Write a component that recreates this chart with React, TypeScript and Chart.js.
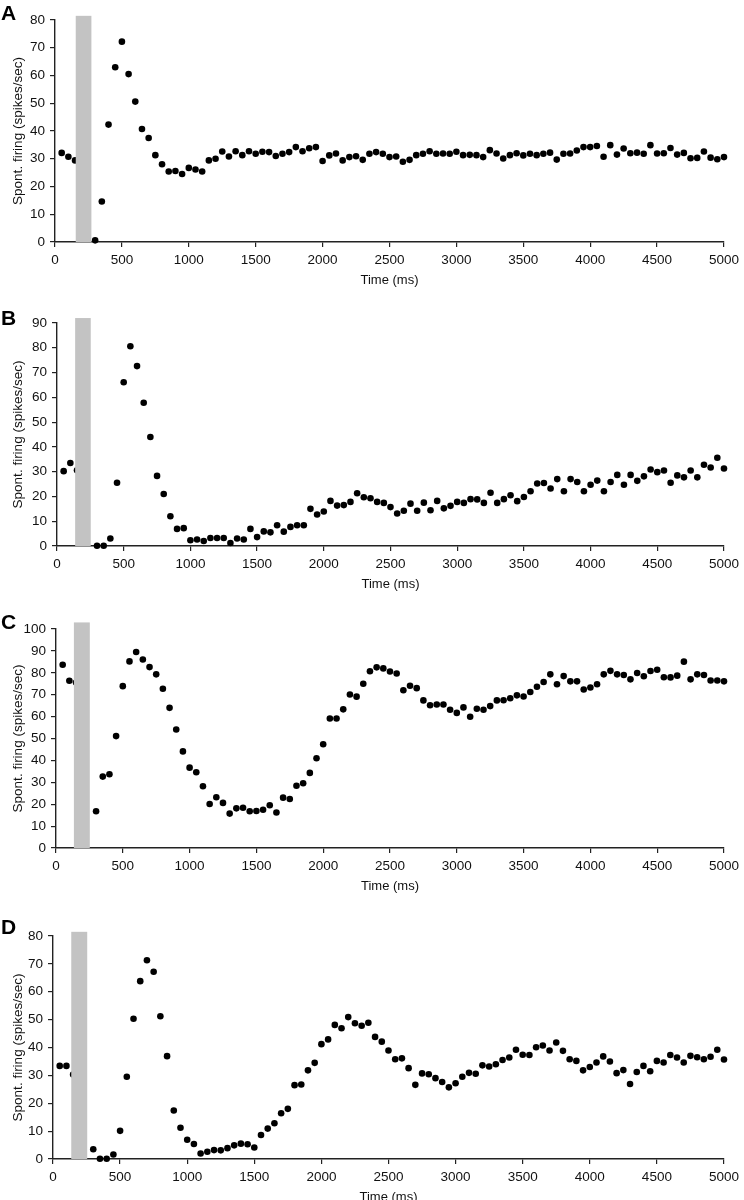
import React, { useEffect, useRef } from "react";
import { Chart, registerables } from "chart.js";

Chart.register(...registerables);

// Time bins (ms)
const times = [
  50, 100, 150, 200, 250, 300, 350, 400, 450, 500,
  550, 600, 650, 700, 750, 800, 850, 900, 950, 1000,
  1050, 1100, 1150, 1200, 1250, 1300, 1350, 1400, 1450, 1500,
  1550, 1600, 1650, 1700, 1750, 1800, 1850, 1900, 1950, 2000,
  2050, 2100, 2150, 2200, 2250, 2300, 2350, 2400, 2450, 2500,
  2550, 2600, 2650, 2700, 2750, 2800, 2850, 2900, 2950, 3000,
  3050, 3100, 3150, 3200, 3250, 3300, 3350, 3400, 3450, 3500,
  3550, 3600, 3650, 3700, 3750, 3800, 3850, 3900, 3950, 4000,
  4050, 4100, 4150, 4200, 4250, 4300, 4350, 4400, 4450, 4500,
  4550, 4600, 4650, 4700, 4750, 4800, 4850, 4900, 4950, 5000,
];

const xTickLabels = ["0", "500", "1000", "1500", "2000", "2500", "3000", "3500", "4000", "4500", "5000"];

const seriesA = [
  32.1, 30.7, 29.4, null, null, 0.6, 14.6, 42.3, 63.0, 72.2,
  60.5, 50.6, 40.7, 37.5, 31.3, 28.0, 25.4, 25.6, 24.5, 26.7,
  26.1, 25.4, 29.4, 30.0, 32.6, 30.8, 32.7, 31.3, 32.7, 31.8,
  32.5, 32.4, 31.0, 31.8, 32.4, 34.2, 32.7, 33.8, 34.2, 29.2,
  31.2, 31.9, 29.4, 30.6, 30.9, 29.6, 31.8, 32.4, 31.8, 30.6,
  30.8, 28.9, 29.6, 31.3, 31.8, 32.7, 31.8, 31.9, 31.8, 32.5,
  31.3, 31.4, 31.3, 30.6, 33.1, 31.9, 30.1, 31.3, 32.0, 31.2,
  31.8, 31.3, 31.8, 32.2, 29.7, 31.8, 31.9, 33.0, 34.2, 34.2,
  34.6, 30.7, 34.9, 31.5, 33.7, 32.0, 32.2, 31.8, 34.9, 31.9,
  32.0, 33.9, 31.5, 32.1, 30.2, 30.3, 32.6, 30.4, 29.8, 30.6,
];

const seriesB = [
  30.2, 33.5, 30.6, null, null, 0.1, 0.1, 3.0, 25.5, 66.1,
  80.6, 72.6, 57.8, 44.0, 28.3, 21.0, 12.0, 6.9, 7.2, 2.3,
  2.6, 2.0, 3.2, 3.2, 3.2, 1.2, 3.0, 2.6, 6.9, 3.6,
  5.9, 5.5, 8.4, 5.8, 7.7, 8.4, 8.4, 15.0, 12.7, 13.9,
  18.2, 16.3, 16.5, 17.8, 21.3, 19.7, 19.3, 17.8, 17.4, 15.7,
  13.1, 14.2, 17.1, 14.2, 17.5, 14.4, 18.2, 15.2, 16.2, 17.8,
  17.4, 18.9, 18.8, 17.4, 21.5, 17.4, 18.9, 20.5, 18.1, 19.8,
  22.1, 25.2, 25.4, 23.2, 27.0, 22.1, 27.0, 25.8, 22.1, 24.7,
  26.4, 22.1, 25.8, 28.7, 24.7, 28.7, 26.3, 28.1, 30.9, 29.8,
  30.5, 25.5, 28.5, 27.7, 30.5, 27.7, 32.8, 31.7, 35.6, 31.3,
];

const seriesC = [
  83.7, 76.4, 75.6, null, null, 16.8, 32.6, 33.7, 51.1, 73.9,
  85.2, 89.5, 86.1, 82.6, 79.3, 72.7, 64.0, 54.1, 44.1, 36.7,
  34.6, 28.2, 20.1, 23.2, 20.6, 15.7, 18.1, 18.4, 16.8, 16.9,
  17.5, 19.5, 16.2, 23.0, 22.4, 28.4, 29.6, 34.3, 41.0, 47.4,
  59.1, 59.1, 63.3, 70.1, 69.1, 75.0, 80.7, 82.5, 82.0, 80.6,
  79.7, 72.0, 74.1, 73.0, 67.4, 65.2, 65.5, 65.5, 63.1, 61.7,
  64.2, 59.9, 63.6, 63.1, 64.8, 67.4, 67.5, 68.4, 69.7, 69.2,
  71.2, 73.6, 75.8, 79.3, 74.8, 78.5, 76.1, 76.1, 72.4, 73.3,
  74.8, 79.3, 80.9, 79.3, 79.0, 77.0, 79.9, 78.4, 80.8, 81.4,
  78.0, 77.9, 78.7, 85.1, 77.0, 79.3, 79.0, 76.5, 76.5, 76.1,
];

const seriesD = [
  33.4, 33.4, 30.3, null, null, 3.5, 0.1, 0.1, 1.6, 10.1,
  29.5, 50.3, 63.8, 71.3, 67.2, 51.2, 36.9, 17.4, 11.2, 6.9,
  5.4, 2.0, 2.6, 3.2, 3.1, 3.9, 4.9, 5.5, 5.3, 4.1,
  8.6, 10.9, 12.8, 16.4, 18.0, 26.5, 26.7, 31.8, 34.5, 41.2,
  42.9, 48.1, 46.9, 50.9, 48.7, 47.8, 48.9, 43.8, 42.1, 38.9,
  35.8, 36.1, 32.6, 26.6, 30.7, 30.4, 29.0, 27.6, 25.7, 27.2,
  29.5, 30.9, 30.6, 33.6, 33.2, 34.0, 35.5, 36.4, 39.2, 37.4,
  37.3, 40.1, 40.7, 38.9, 41.8, 38.8, 35.8, 35.2, 31.8, 33.0,
  34.6, 36.8, 35.0, 30.8, 31.9, 26.9, 31.2, 33.4, 31.5, 35.2,
  34.6, 37.3, 36.4, 34.6, 37.0, 36.5, 35.8, 36.7, 39.2, 35.7,
];

// Stimulus (grey bar) start/end in ms and top value, per panel
const stimA = [155, 272, 81.5];
const stimB = [136, 253, 92];
const stimC = [134, 253, 103];
const stimD = [136, 255, 81.5];

const yMaxes = [80, 90, 100, 80];
const panelLetters = ["A", "B", "C", "D"];
const xTitle = "Time (ms)";
const yTitle = "Spont. firing (spikes/sec)";

const FONT = '"Liberation Sans", Arial, Helvetica, sans-serif';

type PanelGeom = { top: number; height: number; padTop: number; left: number; letterBase: number };

const geoms: PanelGeom[] = [
  { top: 0, height: 290, padTop: 20, left: 55, letterBase: 20 },
  { top: 296, height: 298, padTop: 27, left: 57, letterBase: 325 },
  { top: 600, height: 296, padTop: 29, left: 56, letterBase: 629 },
  { top: 900, height: 307, padTop: 36, left: 53, letterBase: 934 },
];

function Panel({ idx, values, stim }: { idx: number; values: (number | null)[]; stim: number[] }) {
  const ref = useRef<HTMLCanvasElement | null>(null);
  const g = geoms[idx];
  useEffect(() => {
    if (!ref.current) return;
    const pts = times
      .map((t, i) => ({ x: t, y: values[i] }))
      .filter((p) => p.y !== null);
    const overlay = {
      id: "overlay" + idx,
      afterDatasetsDraw(chart: any) {
        const ctx = chart.ctx;
        const xs = chart.scales.x;
        const ys = chart.scales.y;
        const x0 = xs.getPixelForValue(stim[0]);
        const x1 = xs.getPixelForValue(stim[1]);
        const yTop = ys.getPixelForValue(stim[2]);
        const yBot = ys.getPixelForValue(0);
        ctx.save();
        ctx.fillStyle = "#c3c3c3";
        ctx.fillRect(x0, yTop, x1 - x0, yBot - yTop);
        ctx.restore();
      },
      afterDraw(chart: any) {
        const ctx = chart.ctx;
        ctx.save();
        ctx.fillStyle = "#000";
        ctx.font = "bold 21px " + FONT;
        ctx.textBaseline = "alphabetic";
        ctx.textAlign = "left";
        ctx.fillText(panelLetters[idx], 1, g.letterBase - g.top);
        ctx.restore();
      },
    };
    const chart = new Chart(ref.current, {
      type: "scatter",
      data: {
        datasets: [
          {
            data: pts as any,
            backgroundColor: "#000",
            borderColor: "#000",
            pointRadius: 3.3,
            pointBorderWidth: 0,
            clip: false,
          },
        ],
      },
      options: {
        animation: false,
        responsive: false,
        devicePixelRatio: 1,
        layout: { padding: { top: g.padTop, right: 15, left: 0, bottom: 0 } },
        plugins: { legend: { display: false }, tooltip: { enabled: false } },
        scales: {
          x: {
            type: "linear",
            min: 0,
            max: 5000,
            afterFit: (s: any) => {
              s.height = 48;
            },
            afterBuildTicks: (s: any) => {
              s.ticks = xTickLabels.map((l) => ({ value: Number(l) }));
            },
            ticks: {
              color: "#111",
              font: { family: FONT, size: 13.5 },
              padding: 5,
              maxRotation: 0,
              callback: (v: any) => String(v),
            },
            grid: { display: true, drawOnChartArea: false, drawTicks: true, tickLength: 5, color: "#222", lineWidth: 1.2 },
            border: { display: true, color: "#222", width: 1.4 },
            title: {
              display: true,
              text: xTitle,
              color: "#111",
              font: { family: FONT, size: 13 },
              padding: { top: 0, bottom: 2 },
            },
          },
          y: {
            type: "linear",
            min: 0,
            max: yMaxes[idx],
            afterFit: (s: any) => {
              s.width = g.left;
            },
            ticks: {
              stepSize: 10,
              color: "#111",
              font: { family: FONT, size: 13.5 },
              padding: 5,
            },
            grid: { display: true, drawOnChartArea: false, drawTicks: true, tickLength: 5, color: "#222", lineWidth: 1.2 },
            border: { display: true, color: "#222", width: 1.4 },
            title: {
              display: true,
              text: yTitle,
              color: "#111",
              font: { family: FONT, size: 13.5 },
              padding: { top: 10, bottom: 0 },
            },
          },
        },
      } as any,
      plugins: [overlay],
    });
    return () => chart.destroy();
  }, []);
  return (
    <canvas
      ref={ref}
      width={744}
      height={g.height}
      style={{ position: "absolute", left: 0, top: g.top, width: 744, height: g.height }}
    />
  );
}

export default function App() {
  return (
    <div
      style={{
        position: "absolute",
        left: 0,
        top: 0,
        width: 744,
        height: 1200,
        overflow: "hidden",
        background: "#fff",
      }}
    >
      <Panel idx={0} values={seriesA} stim={stimA} />
      <Panel idx={1} values={seriesB} stim={stimB} />
      <Panel idx={2} values={seriesC} stim={stimC} />
      <Panel idx={3} values={seriesD} stim={stimD} />
    </div>
  );
}
